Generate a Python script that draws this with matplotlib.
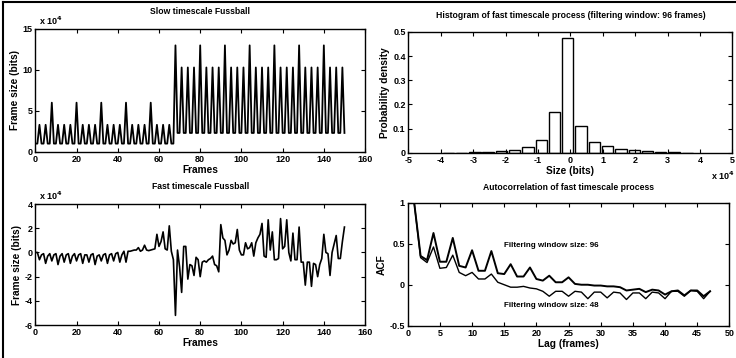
import matplotlib.pyplot as plt
import numpy as np
from matplotlib.lines import Line2D

# slow timescale frame sizes (x 1e4 bits), frames 0..150, one GOP of 12 per row
slow_sizes = [
    1.0, 1.0, 3.3, 1.0, 1.0, 3.3, 1.0, 1.0, 6.0, 1.0, 1.0, 3.3,
    1.0, 1.0, 3.3, 1.0, 1.0, 3.3, 1.0, 1.0, 6.0, 1.0, 1.0, 3.3,
    1.0, 1.0, 3.3, 1.0, 1.0, 3.3, 1.0, 1.0, 6.0, 1.0, 1.0, 3.3,
    1.0, 1.0, 3.3, 1.0, 1.0, 3.3, 1.0, 1.0, 6.0, 1.0, 1.0, 3.3,
    1.0, 1.0, 3.3, 1.0, 1.0, 3.3, 1.0, 1.0, 6.0, 1.0, 1.0, 3.3,
    1.0, 1.0, 3.3, 1.0, 1.0, 3.3, 1.0, 1.0, 13.0, 2.3, 2.3, 10.3,
    2.3, 2.3, 10.3, 2.3, 2.3, 10.3, 2.3, 2.3, 13.0, 2.3, 2.3, 10.3,
    2.3, 2.3, 10.3, 2.3, 2.3, 10.3, 2.3, 2.3, 13.0, 2.3, 2.3, 10.3,
    2.3, 2.3, 10.3, 2.3, 2.3, 10.3, 2.3, 2.3, 13.0, 2.3, 2.3, 10.3,
    2.3, 2.3, 10.3, 2.3, 2.3, 10.3, 2.3, 2.3, 13.0, 2.3, 2.3, 10.3,
    2.3, 2.3, 10.3, 2.3, 2.3, 10.3, 2.3, 2.3, 13.0, 2.3, 2.3, 10.3,
    2.3, 2.3, 10.3, 2.3, 2.3, 10.3, 2.3, 2.3, 13.0, 2.3, 2.3, 10.3,
    2.3, 2.3, 10.3, 2.3, 2.3, 10.3, 2.3,
]

# fast timescale residual (x 1e4 bits), frames 0..150
fast_sizes = [
    0.0, 0.0, -0.6, -0.2, -0.1, -0.9, -0.3, -0.1, -0.7, -0.2, -0.1, -1.0,
    -0.3, -0.1, -0.8, -0.2, -0.1, -0.9, -0.3, -0.1, -0.7, -0.2, -0.1, -0.9,
    -0.2, -0.2, -0.8, -0.2, -0.1, -1.0, -0.3, -0.2, -0.7, -0.2, -0.1, -0.9,
    -0.2, -0.1, -0.7, -0.1, 0.0, -0.8, -0.2, 0.1, -0.8, 0.1, 0.1, 0.15,
    0.2, 0.2, 0.4, 0.1, 0.2, 0.6, 0.2, 0.15, 0.2, 0.25, 0.3, 1.5,
    0.5, 0.9, 1.7, 0.3, 0.2, 2.2, 0.1, -0.6, -5.2, 0.2, -1.2, -3.3,
    0.5, 0.5, -2.2, -1.0, -1.1, -1.9, -0.4, -0.6, -2.0, -0.8, -0.7, -0.8,
    -0.6, -0.5, -0.3, -1.0, -1.1, -1.6, 2.3, 1.2, 1.0, -0.2, 0.2, 1.0,
    0.7, 0.8, 1.9, 0.2, -0.2, -0.2, 0.8, 0.3, 0.4, 0.8, -0.3, 0.8,
    1.2, 1.5, 2.4, -0.3, -0.4, 2.7, 0.2, 1.7, -0.6, -0.6, -0.5, 2.8,
    0.3, 0.5, 2.7, 0.0, -0.7, 1.6, -0.6, -0.6, 2.1, -0.8, -0.8, -2.7,
    -0.8, -0.8, -2.8, -0.9, -1.0, -2.0, -1.0, -0.5, 1.5, 0.0, -0.1, -1.9,
    0.0, 0.7, 1.4, -0.5, -0.5, 0.9, 2.1,
]

# histogram of fast process (x 1e4 bits)
hist_centers = [-3.77, -3.36, -2.95, -2.54, -2.13, -1.72, -1.31, -0.90, -0.49,
                -0.08, 0.33, 0.74, 1.15, 1.56, 1.97, 2.38, 2.79, 3.20, 3.61]
hist_density = [0.0005, 0.001, 0.002, 0.004, 0.007, 0.012, 0.025, 0.055, 0.168,
                0.473, 0.11, 0.043, 0.027, 0.018, 0.01, 0.006, 0.003, 0.002, 0.001]

# autocorrelation, lags 1..47
acf_96 = [1.0, 0.35, 0.30, 0.63, 0.28, 0.28, 0.57, 0.23, 0.21, 0.42, 0.17, 0.17,
          0.41, 0.14, 0.13, 0.25, 0.10, 0.10, 0.21, 0.07, 0.05, 0.11, 0.03, 0.03,
          0.09, 0.01, 0.0, 0.0, -0.01, -0.01, -0.02, -0.02, -0.03, -0.07, -0.06,
          -0.05, -0.09, -0.06, -0.07, -0.12, -0.08, -0.07, -0.13, -0.07, -0.07,
          -0.14, -0.08]
acf_48 = [1.0, 0.33, 0.27, 0.46, 0.20, 0.21, 0.36, 0.15, 0.11, 0.15, 0.07, 0.07,
          0.13, 0.03, 0.0, -0.03, -0.03, -0.02, -0.04, -0.05, -0.08, -0.14, -0.08,
          -0.08, -0.14, -0.08, -0.09, -0.17, -0.09, -0.09, -0.16, -0.09, -0.10,
          -0.18, -0.10, -0.10, -0.17, -0.09, -0.10, -0.17, -0.08, -0.08, -0.14,
          -0.07, -0.08, -0.17, -0.08]

plt.rcParams['font.family'] = ['Liberation Sans', 'DejaVu Sans']
plt.rcParams['font.size'] = 6.5
plt.rcParams['font.weight'] = 'bold'
plt.rcParams['axes.labelweight'] = 'bold'
plt.rcParams['axes.labelsize'] = 7.3
plt.rcParams['axes.titleweight'] = 'bold'
plt.rcParams['axes.titlesize'] = 6.2
plt.rcParams['axes.unicode_minus'] = False

fig = plt.figure(figsize=(7.36, 3.58), dpi=100)
ax1 = fig.add_axes([0.048, 0.576, 0.448, 0.343])
ax2 = fig.add_axes([0.555, 0.573, 0.440, 0.338])
ax3 = fig.add_axes([0.048, 0.092, 0.448, 0.338])
ax4 = fig.add_axes([0.554, 0.090, 0.437, 0.344])


def matlab_style(ax):
    ax.tick_params(direction='in', top=True, right=True, length=3, width=0.8, pad=2)
    for s in ax.spines.values():
        s.set_linewidth(1.0)


frames = np.arange(len(slow_sizes))
ax1.plot(frames, slow_sizes, color='k', lw=1.3)
ax1.set_xlim(0, 160)
ax1.set_ylim(0, 15)
ax1.set_xticks(range(0, 161, 20))
ax1.set_yticks([0, 5, 10, 15])
ax1.set_title('Slow timescale Fussball', pad=11)
ax1.set_xlabel('Frames', labelpad=1)
ax1.set_ylabel('Frame size (bits)', labelpad=2)
ax1.text(0.01, 1.02, r'x 10$^4$', transform=ax1.transAxes, ha='left', va='bottom')
matlab_style(ax1)

ax2.bar(hist_centers, hist_density, width=0.35, color='white', edgecolor='k', lw=1.0)
ax2.set_xlim(-5, 5)
ax2.set_ylim(0, 0.5)
ax2.set_xticks(range(-5, 6))
ax2.set_yticks([0, 0.1, 0.2, 0.3, 0.4, 0.5])
ax2.set_yticklabels(['0', '0.1', '0.2', '0.3', '0.4', '0.5'])
ax2.set_title('Histogram of fast timescale process (filtering window: 96 frames)', pad=10)
ax2.set_xlabel('Size (bits)', labelpad=1)
ax2.set_ylabel('Probability density', labelpad=2)
ax2.text(1.008, -0.14, r'x 10$^4$', transform=ax2.transAxes, ha='right', va='top')
matlab_style(ax2)

frames_fast = np.arange(len(fast_sizes))
ax3.plot(frames_fast, fast_sizes, color='k', lw=1.2)
ax3.set_xlim(0, 160)
ax3.set_ylim(-6, 4)
ax3.set_xticks(range(0, 161, 20))
ax3.set_yticks(range(-6, 5, 2))
ax3.set_title('Fast timescale Fussball', pad=11)
ax3.set_xlabel('Frames', labelpad=1)
ax3.set_ylabel('Frame size (bits)', labelpad=2)
ax3.text(0.01, 1.02, r'x 10$^4$', transform=ax3.transAxes, ha='left', va='bottom')
matlab_style(ax3)

lags = np.arange(1, len(acf_96) + 1)
ax4.plot(lags, acf_96, color='k', lw=1.4)
ax4.plot(lags, acf_48, color='k', lw=1.0)
ax4.set_xlim(0, 50)
ax4.set_ylim(-0.5, 1)
ax4.set_xticks(range(0, 51, 5))
ax4.set_yticks([-0.5, 0, 0.5, 1])
ax4.set_yticklabels(['-0.5', '0', '0.5', '1'])
ax4.set_title('Autocorrelation of fast timescale process', pad=9)
ax4.set_xlabel('Lag (frames)', labelpad=1)
ax4.set_ylabel('ACF', labelpad=2)
ax4.text(15, 0.48, 'Filtering window size: 96', ha='left', va='center', fontsize=5.8)
ax4.text(15, -0.25, 'Filtering window size: 48', ha='left', va='center', fontsize=5.8)
matlab_style(ax4)

# scanned page frame (left and top edges)
fig.add_artist(Line2D([0.004, 0.004], [0.0, 0.995], color='k', lw=1.5))
fig.add_artist(Line2D([0.004, 1.0], [0.995, 0.995], color='k', lw=1.5))

fig.savefig('out.png', dpi=100)
